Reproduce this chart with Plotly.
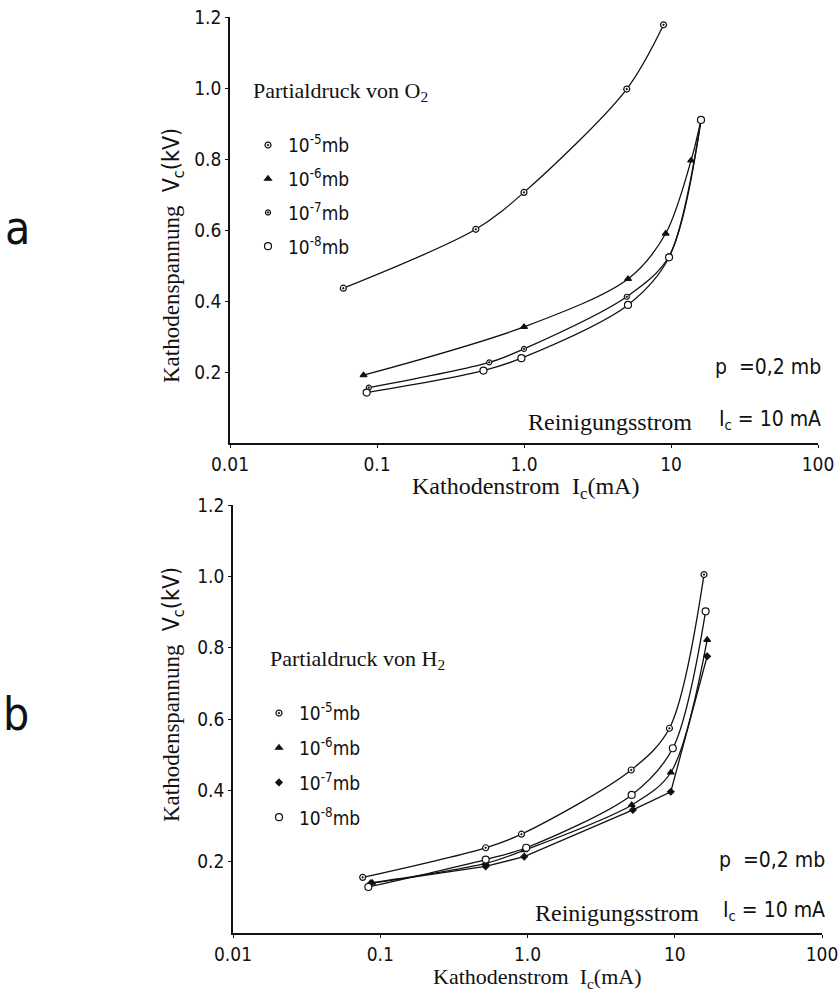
import plotly.graph_objects as go

# ---------------- data ----------------
# (a) oxygen partial pressure
o2_e5_x = [0.059, 0.47, 1.0, 5.0, 8.9]
o2_e5_y = [0.436, 0.602, 0.706, 0.997, 1.178]
o2_e6_x = [0.081, 1.0, 5.1, 9.2, 13.7, 16.0]
o2_e6_y = [0.191, 0.327, 0.462, 0.590, 0.796, 0.910]
o2_e7_x = [0.088, 0.58, 1.0, 5.0, 9.7, 16.0]
o2_e7_y = [0.156, 0.227, 0.265, 0.412, 0.526, 0.910]
o2_e8_x = [0.085, 0.53, 0.96, 5.1, 9.7, 16.0]
o2_e8_y = [0.142, 0.204, 0.239, 0.389, 0.523, 0.910]

# (b) hydrogen partial pressure
h2_e5_x = [0.076, 0.52, 0.91, 5.06, 9.2, 15.8]
h2_e5_y = [0.156, 0.239, 0.277, 0.457, 0.574, 1.005]
h2_e6_x = [0.088, 0.52, 0.95, 5.1, 9.4, 16.6]
h2_e6_y = [0.141, 0.195, 0.232, 0.359, 0.450, 0.822]
h2_e7_x = [0.086, 0.52, 0.95, 5.2, 9.4, 16.6]
h2_e7_y = [0.139, 0.187, 0.214, 0.345, 0.396, 0.776]
h2_e8_x = [0.083, 0.52, 0.98, 5.1, 9.7, 16.2]
h2_e8_y = [0.129, 0.206, 0.239, 0.387, 0.518, 0.902]

series_names = ["10<sup>-5</sup>mb", "10<sup>-6</sup>mb", "10<sup>-7</sup>mb", "10<sup>-8</sup>mb"]
x_tickvals = [0.01, 0.1, 1, 10, 100]
x_ticktext = ["0.01", "0.1", "1.0", "10", "100"]
y_tickvals = [0.2, 0.4, 0.6, 0.8, 1.0, 1.2]
y_ticktext = ["0.2", "0.4", "0.6", "0.8", "1.0", "1.2"]

SERIF = "Liberation Serif, Times New Roman, serif"
SANS = "Liberation Sans Narrow, DejaVu Sans Condensed, DejaVu Sans, sans-serif"
BLACK = "#111111"

W, H = 840, 992


def px(x):
    return x / W


def py(y):
    return 1 - y / H


fig = go.Figure()

top_sets = [(o2_e5_x, o2_e5_y, "circle-dot", 6, "white", "spline"),
            (o2_e6_x, o2_e6_y, "triangle-up", 6, BLACK, "spline"),
            (o2_e7_x, o2_e7_y, "circle-dot", 5, "white", "spline"),
            (o2_e8_x, o2_e8_y, "circle", 7, "white", "spline")]
bot_sets = [(h2_e5_x, h2_e5_y, "circle-dot", 6, "white", "spline"),
            (h2_e6_x, h2_e6_y, "triangle-up", 6, BLACK, "spline"),
            (h2_e7_x, h2_e7_y, "diamond", 5, BLACK, "linear"),
            (h2_e8_x, h2_e8_y, "circle", 7, "white", "spline")]

for sets, xa, ya, leg in [(top_sets, "x", "y", "legend"), (bot_sets, "x2", "y2", "legend2")]:
    for i, (xs, ys, sym, sz, fill, shape) in enumerate(sets):
        mk = dict(symbol=sym, size=sz, color=fill, line=dict(color=BLACK, width=1.2))
        fig.add_trace(go.Scatter(
            x=xs, y=ys, mode="lines+markers", showlegend=False,
            line=dict(color=BLACK, width=1.3, shape=shape, smoothing=0.9),
            marker=mk, xaxis=xa, yaxis=ya))
        # marker-only legend entry for the same series
        fig.add_trace(go.Scatter(
            x=[None], y=[None], mode="markers", name=series_names[i],
            marker=mk, xaxis=xa, yaxis=ya, legend=leg, legendgroup=leg + str(i)))

tickfont = dict(family=SANS, size=19, color=BLACK)
axis_common = dict(showgrid=False, zeroline=False, showline=True, linecolor=BLACK,
                   linewidth=1.6, ticks="outside", ticklen=3, tickcolor=BLACK,
                   automargin=False, tickfont=tickfont)

legfont = dict(family=SANS, size=19, color=BLACK)

fig.update_layout(
    template="none",
    width=W, height=H, margin=dict(l=0, r=0, t=0, b=0, pad=0, autoexpand=False),
    paper_bgcolor="white", plot_bgcolor="white",
    xaxis=dict(type="log", range=[-2, 2], domain=[px(230), px(818)], anchor="y",
               tickvals=x_tickvals, ticktext=x_ticktext, **axis_common),
    yaxis=dict(range=[0, 1.2], domain=[py(443), py(17)], anchor="x",
               tickvals=y_tickvals, ticktext=y_ticktext, **axis_common),
    xaxis2=dict(type="log", range=[-2, 2], domain=[px(233), px(822)], anchor="y2",
                tickvals=x_tickvals, ticktext=x_ticktext, **axis_common),
    yaxis2=dict(range=[0, 1.2], domain=[py(933), py(505)], anchor="x2",
                tickvals=y_tickvals, ticktext=y_ticktext, **axis_common),
    legend=dict(x=px(251), y=py(69), xanchor="left", yanchor="top",
                bgcolor="rgba(0,0,0,0)", tracegroupgap=6, indentation=-3,
                title=dict(text="Partialdruck von O<sub>2</sub><br> ",
                           font=dict(family=SERIF, size=22, color=BLACK)),
                font=legfont),
    legend2=dict(x=px(268), y=py(637), xanchor="left", yanchor="top",
                 bgcolor="rgba(0,0,0,0)", tracegroupgap=7, indentation=-9,
                 title=dict(text="Partialdruck von H<sub>2</sub><br> ",
                            font=dict(family=SERIF, size=22, color=BLACK)),
                 font=legfont),
)

ytitle = ('<span style="font-family:Liberation Serif">Kathodenspannung</span>'
          '  V<sub>c</sub>(kV)')
xtitle = ('<span style="font-family:Liberation Serif">Kathodenstrom</span>'
          '  I<sub>c</sub>(mA)')

annots = [
    dict(text=ytitle, x=px(173), y=py(256), textangle=-90, size=23, fam=SANS),
    dict(text=ytitle, x=px(173), y=py(695), textangle=-90, size=23, fam=SANS),
    dict(text=xtitle, x=px(525), y=py(488), textangle=0, size=24, fam=SERIF),
    dict(text=xtitle, x=px(537), y=py(978), textangle=0, size=22, fam=SERIF),
    dict(text="p  =0,2 mb", x=px(768), y=py(367), textangle=0, size=21, fam=SANS),
    dict(text="p  =0,2 mb", x=px(772), y=py(860), textangle=0, size=21, fam=SANS),
    dict(text="Reinigungsstrom", x=px(610), y=py(422), textangle=0, size=24, fam=SERIF),
    dict(text="Reinigungsstrom", x=px(617), y=py(913), textangle=0, size=24, fam=SERIF),
    dict(text="I<sub>c</sub> = 10 mA", x=px(770), y=py(420), textangle=0, size=21, fam=SANS),
    dict(text="I<sub>c</sub> = 10 mA", x=px(774), y=py(911), textangle=0, size=21, fam=SANS),
    dict(text="a", x=px(17), y=py(228), textangle=0, size=46, fam=SANS),
    dict(text="b", x=px(16), y=py(714), textangle=0, size=46, fam=SANS),
]
for a in annots:
    fig.add_annotation(text=a["text"], x=a["x"], y=a["y"], xref="paper", yref="paper",
                       xanchor="center", yanchor="middle", showarrow=False,
                       textangle=a["textangle"],
                       font=dict(family=a["fam"], size=a["size"], color=BLACK))

# remove the browser's default 8px page margin so the figure sits at the window origin
fig.write_html("out.html", config={"displayModeBar": False},
               post_script="document.body.style.margin='0';")
